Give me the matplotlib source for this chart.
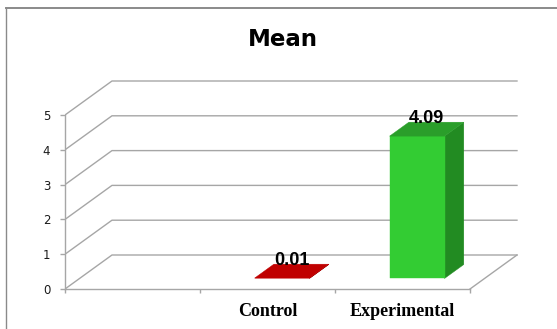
import matplotlib
matplotlib.use('Agg')
import matplotlib.pyplot as plt
from matplotlib.patches import Polygon
from matplotlib.lines import Line2D

# chart data
categories = ['', 'Control', 'Experimental']
means = [None, 0.01, 4.09]
y_ticks = [0, 1, 2, 3, 4, 5]
title = 'Mean'

# oblique "3d" look: depth offset of the back wall in data units
DEPTH_X = 0.348
DEPTH_Y = 0.977
BAR_W = 0.407
BAR_D0, BAR_D1 = 0.31, 0.72
GRID = '#A6A6A6'

# front / side / top colour of each bar
bar_colors = {
    'Control': ('#C00000', '#900000', '#C00000'),
    'Experimental': ('#33CC33', '#228B22', '#2A9E2A'),
}


def proj(x, y, d):
    '''project a point at depth d (0 front .. 1 back wall) onto the 2d axes'''
    return x + d * DEPTH_X, y + d * DEPTH_Y


fig = plt.figure(figsize=(5.57, 3.29), dpi=100)
W, H = 557, 329
x_px, y_px = 135, 34.8  # pixels per category / per unit value
xlim = (0, 3.45)
ylim = (-0.3, 6.1)
ax = fig.add_axes([65 / W, (40 + ylim[0] * y_px) / H,
                   (xlim[1] - xlim[0]) * x_px / W, (ylim[1] - ylim[0]) * y_px / H])
ax.set_xlim(*xlim)
ax.set_ylim(*ylim)
ax.patch.set_alpha(0)

# front axes
for s in ['top', 'right']:
    ax.spines[s].set_visible(False)
ax.spines['left'].set_bounds(0, 5)
ax.spines['bottom'].set_position(('data', 0))
ax.spines['bottom'].set_bounds(0, len(categories))
for s in ['left', 'bottom']:
    ax.spines[s].set_color(GRID)
    ax.spines[s].set_linewidth(1.0)

ax.set_yticks(y_ticks)
ax.set_yticklabels([str(t) for t in y_ticks])
ax.tick_params(axis='y', direction='out', length=3.6, width=1.0, color=GRID,
               pad=7, labelsize=8.5, labelcolor='#1a1a1a')
ax.set_xticks(range(len(categories) + 1))
ax.set_xticklabels([])
ax.set_xticks([i + 0.5 for i in range(len(categories))], minor=True)
ax.set_xticklabels(categories, minor=True, family='Liberation Serif',
                   fontweight='bold', fontsize=13)
ax.tick_params(axis='x', which='major', direction='out', length=3.2, width=1.0, color=GRID)
ax.tick_params(axis='x', which='minor', length=0, pad=10)

# side wall + back wall gridlines
n = len(categories)
for v in y_ticks:
    xs, ys = zip(proj(0, v, 0), proj(0, v, 1), proj(n, v, 1))
    ax.plot(xs, ys, color=GRID, lw=1.0, zorder=1)
# right edge of the floor
xs, ys = zip(proj(n, 0, 0), proj(n, 0, 1))
ax.plot(xs, ys, color=GRID, lw=1.0, zorder=1)

# bars
for i, (cat, val) in enumerate(zip(categories, means)):
    if val is None:
        continue
    c = i + 0.5
    x0, x1 = c - BAR_W / 2, c + BAR_W / 2
    front_c, side_c, top_c = bar_colors[cat]
    front = [proj(x0, 0, BAR_D0), proj(x1, 0, BAR_D0), proj(x1, val, BAR_D0), proj(x0, val, BAR_D0)]
    side = [proj(x1, 0, BAR_D0), proj(x1, 0, BAR_D1), proj(x1, val, BAR_D1), proj(x1, val, BAR_D0)]
    top = [proj(x0, val, BAR_D0), proj(x1, val, BAR_D0), proj(x1, val, BAR_D1), proj(x0, val, BAR_D1)]
    for pts, col in [(side, side_c), (front, front_c), (top, top_c)]:
        ax.add_patch(Polygon(pts, closed=True, facecolor=col, edgecolor=col, lw=0.3, zorder=3))
    ax.annotate(f'{val:.2f}', xy=proj(c, val, (BAR_D0 + BAR_D1) / 2), xytext=(0, 8),
                textcoords='offset points', ha='center', va='center',
                family='Liberation Sans', fontweight='bold', fontsize=13, zorder=5)

fig.text(283 / W, 1 - 39 / H, title, ha='center', va='center',
         fontsize=16.5, fontweight='bold', family='DejaVu Sans')

# chart frame
fig.add_artist(Line2D([6 / W, 6 / W], [0, 1 - 8 / H], transform=fig.transFigure,
                      color='#8A8A8A', lw=1.0))
fig.add_artist(Line2D([6 / W, 1], [1 - 8 / H, 1 - 8 / H], transform=fig.transFigure,
                      color='#8A8A8A', lw=1.4))

fig.savefig('out.png', dpi=100)
